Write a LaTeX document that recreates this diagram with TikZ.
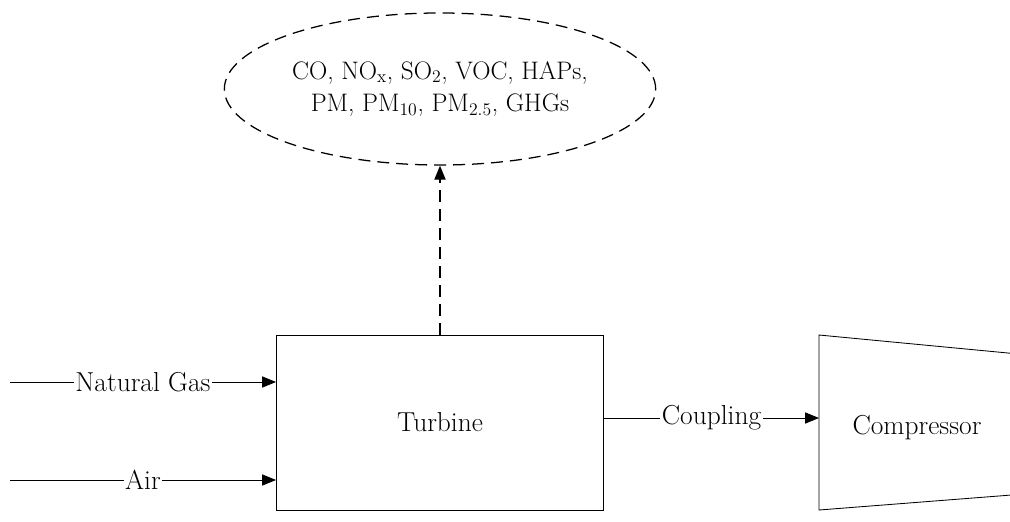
\documentclass[tikz,border=0pt]{standalone}
\usetikzlibrary{arrows.meta,shapes.geometric}

\tikzset{
  flow/.style={-{Triangle[length=0.35cm,width=0.28cm]}, line width=0.6pt},
  lbl/.style={fill=white, inner sep=1pt},
  unit/.style={draw, line width=0.6pt},
  gasline/.style={dash pattern=on 8.5pt off 5pt, line width=0.9pt},
}

\begin{document}
\begin{tikzpicture}[x=0.025cm, y=-0.025cm, font=\fontsize{19.5}{23}\selectfont]
        \useasboundingbox (0,0) rectangle (1010,521);
        \clip (0,0) rectangle (1010,521);

        % Turbine block
        \node[unit, minimum width=8.175cm, minimum height=4.375cm] (turbine) at (440,422.5) {Turbine};

        % Emissions
        \node[ellipse, draw, gasline, minimum width=8.25cm, minimum height=3.8cm, align=center,
              font=\fontsize{18}{23}\selectfont] (emis) at (440,89)
            {CO, NO\textsubscript{x}, SO\textsubscript{2}, VOC, HAPs,\\ PM, PM\textsubscript{10}, PM\textsubscript{2.5}, GHGs};
        \draw[flow, gasline] (turbine.north) -- (emis.south);

        % Inputs
        \coordinate (gas) at (10,382);
        \coordinate (air) at (10,480);
        \draw[flow] (gas) -- node[lbl] {Natural Gas} (gas -| turbine.west);
        \draw[flow] (air) -- node[lbl] {Air} (air -| turbine.west);

        % Compressor
        \coordinate (comp) at (819,418);
        \draw[unit] (1050,357) -- (819,335) -- (819,510) -- (1050,492);
        \node (compressor) at (917,428) {Compressor};
        \draw[flow] (turbine.east |- comp) -- node[lbl] {Coupling} (comp);
\end{tikzpicture}
\end{document}
